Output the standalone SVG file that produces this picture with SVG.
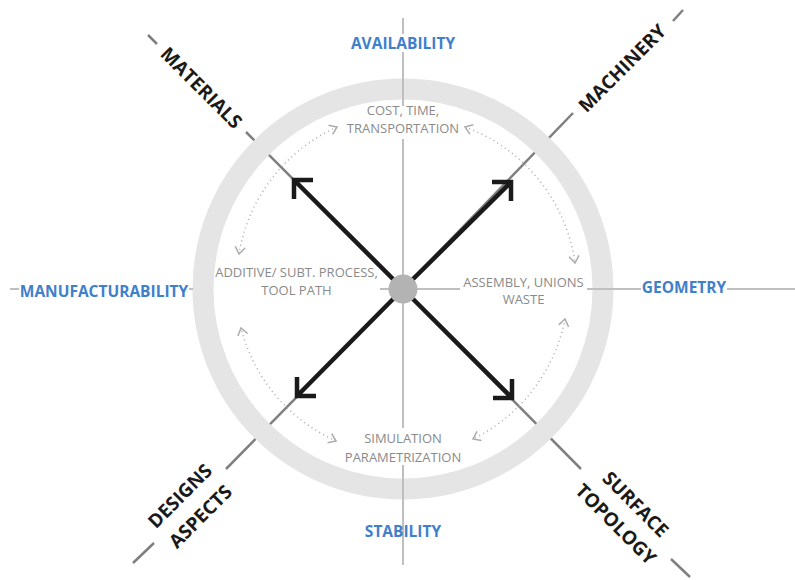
<svg xmlns="http://www.w3.org/2000/svg" width="795" height="580" viewBox="0 0 795 580">
  <defs>
    <style>
      .diag { stroke: #7f7f7f; stroke-width: 2.5; fill: none; }
      .axis { stroke: #bfbfbf; stroke-width: 2; fill: none; }
      .ring { stroke: #e5e5e5; stroke-width: 21; fill: none; }
      .cycle { stroke: #ababab; stroke-width: 1.5; fill: none; stroke-dasharray: 1 3.5; marker-start: url(#chev); marker-end: url(#chev); }
      .arrow { stroke: #1a1a1a; stroke-width: 4.5; fill: none; stroke-linejoin: miter; }
      .factor { font-family: "Open Sans", "Liberation Sans", sans-serif; font-weight: 700; font-size: 19px; fill: #1a1a1a; text-anchor: middle; }
      .quality { font-family: "Open Sans", "Liberation Sans", sans-serif; font-weight: 700; font-size: 15.5px; fill: #3f80cc; text-anchor: middle; }
      .step { font-family: "Open Sans", "Liberation Sans", sans-serif; font-size: 13px; fill: #8a8a8a; text-anchor: middle; }
    </style>
    <marker id="chev" markerUnits="userSpaceOnUse" markerWidth="16" markerHeight="16" viewBox="-10 -8 12 16" refX="0" refY="0" orient="auto-start-reverse" overflow="visible">
      <path d="M-7,-5 L0,0 L-7,5" fill="none" stroke="#ababab" stroke-width="1.5"/>
    </marker>
  </defs>

  <!-- diagonal factor axes (run under the ring) -->
  <g id="connectors">
    <g id="diagonals">
      <path class="diag" d="M148,35 L157,44 M246,132 L403,289"/>
      <path class="diag" d="M683,10 L673,21 M573,113 L403,289"/>
      <path class="diag" d="M133,563 L154,543 M226,469 L403,289"/>
      <path class="diag" d="M690,577 L671,559 M581,469 L403,289"/>
    </g>

    <!-- outer ring -->
    <circle class="ring" cx="403" cy="289" r="200"/>

    <!-- horizontal and vertical quality axes -->
    <g id="axes">
      <path class="axis" d="M10,289 H19 M189,289 H193 M380,289 H460 M587,289 H641 M727,289 H795"/>
      <path class="axis" d="M403,18 V34 M403,52 V106 M403,139 V428 M403,465 V565"/>
    </g>

    <!-- dotted cycle arcs between process steps -->
    <g id="cycles">
      <path class="cycle" d="M337,127 A170,170 0 0 0 239,254"/>
      <path class="cycle" d="M465,127 A170,170 0 0 1 575,263"/>
      <path class="cycle" d="M565,319 A170,170 0 0 1 473,439"/>
      <path class="cycle" d="M336,441 A170,170 0 0 1 241,328"/>
    </g>

    <!-- bold arrows from the hub -->
    <g id="arrows">
      <path class="arrow" d="M403,289 L294,180 M313,180 H294 V199"/>
      <path class="arrow" d="M403,289 L511,182 M492,182 H511 V201"/>
      <path class="arrow" d="M403,289 L512,398 M493,398 H512 V379"/>
      <path class="arrow" d="M403,289 L297,396 M316,396 H297 V377"/>
    </g>
  </g>

  <!-- hub -->
  <g id="hub">
    <circle cx="403" cy="289" r="14.5" fill="#b3b3b3"/>
  </g>

  <!-- factor labels on the diagonals -->
  <g id="materials">
    <text class="factor" transform="translate(201.5,87.5) rotate(45)" y="7">MATERIALS</text>
  </g>
  <g id="machinery">
    <text class="factor" transform="translate(622,68) rotate(-45)" y="7">MACHINERY</text>
  </g>
  <g id="designs-aspects">
    <text class="factor" transform="translate(190,506) rotate(-45)" y="-7.5">DESIGNS</text>
    <text class="factor" transform="translate(190,506) rotate(-45)" y="21.5">ASPECTS</text>
  </g>
  <g id="surface-topology">
    <text class="factor" transform="translate(626,514) rotate(45)" y="-7">SURFACE</text>
    <text class="factor" transform="translate(626,514) rotate(45)" y="21">TOPOLOGY</text>
  </g>

  <!-- quality labels on the axes -->
  <g id="availability"><text class="quality" x="403" y="48.5">AVAILABILITY</text></g>
  <g id="manufacturability"><text class="quality" x="104" y="296.5">MANUFACTURABILITY</text></g>
  <g id="geometry"><text class="quality" x="684" y="293">GEOMETRY</text></g>
  <g id="stability"><text class="quality" x="403" y="536.5">STABILITY</text></g>

  <!-- process steps inside the ring -->
  <g id="cost-time">
    <text class="step" x="403" y="115">COST, TIME,</text>
    <text class="step" x="403" y="133">TRANSPORTATION</text>
  </g>
  <g id="additive-process">
    <text class="step" x="296.5" y="277">ADDITIVE/ SUBT. PROCESS,</text>
    <text class="step" x="296.5" y="295">TOOL PATH</text>
  </g>
  <g id="assembly">
    <text class="step" x="523.5" y="286.5">ASSEMBLY, UNIONS</text>
    <text class="step" x="523.5" y="304">WASTE</text>
  </g>
  <g id="simulation">
    <text class="step" x="403" y="443">SIMULATION</text>
    <text class="step" x="403" y="461.5">PARAMETRIZATION</text>
  </g>
</svg>
